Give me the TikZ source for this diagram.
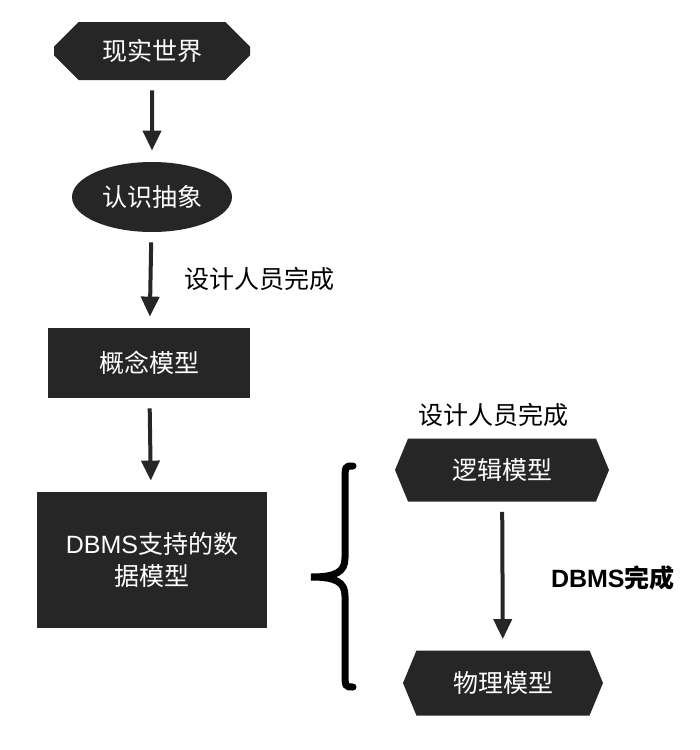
\documentclass[tikz,border=0pt]{standalone}
\usepackage{fontspec}
\setmainfont{Noto Sans CJK SC}
\newfontfamily\latinsans{Liberation Sans}
\usepackage{tikz}
\usetikzlibrary{shapes.geometric}
\usetikzlibrary{shapes.misc}
\usetikzlibrary{shapes.symbols}
\usetikzlibrary{positioning}
\usetikzlibrary{arrows.meta}
\usepackage{xcolor}
\definecolor{boxgray}{RGB}{38,38,38}

\begin{document}
\begin{tikzpicture}[x=0.5pt,y=-0.5pt,
	every node/.style={font=\fontsize{12.5}{16}\selectfont},
	dark/.style={fill=boxgray, text=white, inner sep=0pt, align=center},
	hexa/.style={dark, signal, signal to=west and east, signal pointer angle=135},
	flow/.style={line width=2pt, draw=boxgray, shorten <=5pt, shorten >=5.5pt, -{Triangle[length=10pt,width=9pt]}}]
	\useasboundingbox (0,0) rectangle (700,750);
	\node[dark, chamfered rectangle, chamfered rectangle xsep=9pt, chamfered rectangle ysep=6.5pt, minimum width=98pt, minimum height=29pt] (world) at (152,51) {现实世界};
	\node[dark, ellipse, minimum width=80pt, minimum height=35pt] (abstract) at (152,197) {认识抽象};
	\node[dark, rectangle, minimum width=101pt, minimum height=35pt] (concept) at (149,363) {概念模型};
	\node[dark, rectangle, minimum width=115pt, minimum height=68pt] (dbmsmodel) at (152,560) {{\latinsans DBMS}支持的数\\据模型};
	\node[hexa, minimum width=107pt, minimum height=31.5pt] (logic) at (502,470) {逻辑模型};
	\node[hexa, minimum width=100pt, minimum height=32.5pt] (physic) at (503,683) {物理模型};
	\node[anchor=west] (design1) at (177,279) {设计人员完成};
	\node (design2) at (493,415) {设计人员完成};
	\node[anchor=west, font=\fontsize{12.5}{16}\selectfont\bfseries] (dbmsdone) at (544,578) {{\latinsans DBMS}完成};
	\coordinate (bracetop) at (353,466);
	\coordinate (bracetip) at (311,577);
	\coordinate (bracebot) at (353,687);
	\draw[flow] (world) -- (abstract);
	\draw[flow] (abstract) -- (concept);
	\draw[flow] (concept) -- (dbmsmodel);
	\draw[flow] (logic) -- (physic);
	\draw[line width=3.5pt, line cap=round] (bracetop) .. controls (345,466) .. (345,482) -- (345,558)
		.. controls (345,572) and (336,577) .. (bracetip)
		.. controls (336,577) and (345,582) .. (345,596) -- (345,671)
		.. controls (345,687) .. (bracebot);
\end{tikzpicture}
\end{document}
